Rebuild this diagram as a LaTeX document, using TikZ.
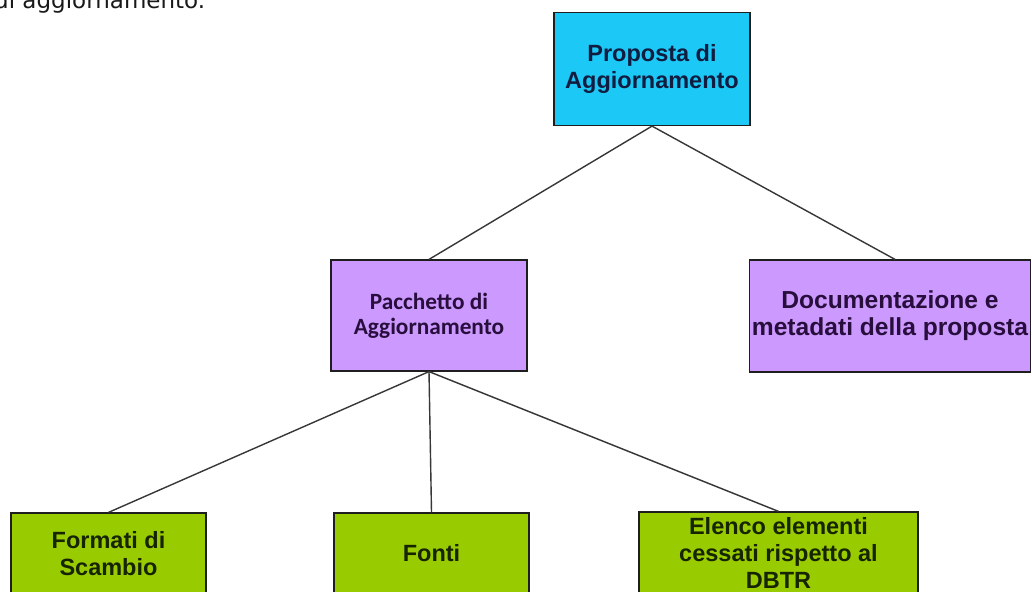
\documentclass[tikz,border=0pt]{standalone}
\usepackage{fontspec}
\setmainfont{Liberation Sans}
\newfontfamily\carlitofont{Carlito}
\newfontfamily\dejavufont{DejaVu Sans}
\definecolor{cyanfill}{RGB}{28,200,245}
\definecolor{purplefill}{RGB}{204,153,255}
\definecolor{greenfill}{RGB}{153,204,0}
\definecolor{navytext}{RGB}{16,28,64}
\definecolor{purpletext}{RGB}{40,14,60}
\definecolor{greentext}{RGB}{22,36,0}
\definecolor{bordercol}{RGB}{30,30,30}
\definecolor{linkcol}{RGB}{55,55,55}
\begin{document}
\begin{tikzpicture}[x=1pt,y=-1pt,
  box/.style={draw=bordercol, line width=1.2pt, inner sep=0pt, align=center,
    font=\fontsize{23.5}{27}\selectfont\bfseries},
  link/.style={draw=linkcol, line width=1.4pt}]
\clip (0,0) rectangle (1032,591);
\fill[white] (0,0) rectangle (1032,591);
\node[anchor=base west, inner sep=0pt, text=black!90,
  font=\dejavufont\fontsize{23}{27}\selectfont] (intro) at (-6,8.5) {di aggiornamento.};
\node[box, fill=cyanfill, text=navytext, minimum width=196pt, minimum height=113pt]
  (prop) at (652,69) {Proposta di\\Aggiornamento};
\node[box, fill=purplefill, text=purpletext, minimum width=196pt, minimum height=111pt,
  font=\carlitofont\fontsize{23.3}{25}\selectfont\bfseries]
  (pacc) at (429,315.5) {Pacchetto di\\Aggiornamento};
\node[box, fill=purplefill, text=purpletext, minimum width=281pt, minimum height=112pt,
  font=\fontsize{24.6}{27}\selectfont\bfseries]
  (doc) at (890,316) {Documentazione e\\metadati della proposta};
\node[box, fill=greenfill, text=greentext, minimum width=195pt, minimum height=81pt]
  (form) at (108.5,553.5) {Formati di\\Scambio};
\node[box, fill=greenfill, text=greentext, minimum width=195pt, minimum height=81pt]
  (fonti) at (431.5,553.5) {Fonti};
\node[box, fill=greenfill, text=greentext, minimum width=279pt, minimum height=82pt]
  (elenco) at (778.5,553) {Elenco elementi\\cessati rispetto al\\DBTR};
\draw[link] (prop.south) -- (pacc.north);
\draw[link] (prop.south) -- ([xshift=5pt]doc.north);
\draw[link] (pacc.south) -- (form.north);
\draw[link] (pacc.south) -- (fonti.north);
\draw[link] (pacc.south) -- (elenco.north);
\end{tikzpicture}
\end{document}
